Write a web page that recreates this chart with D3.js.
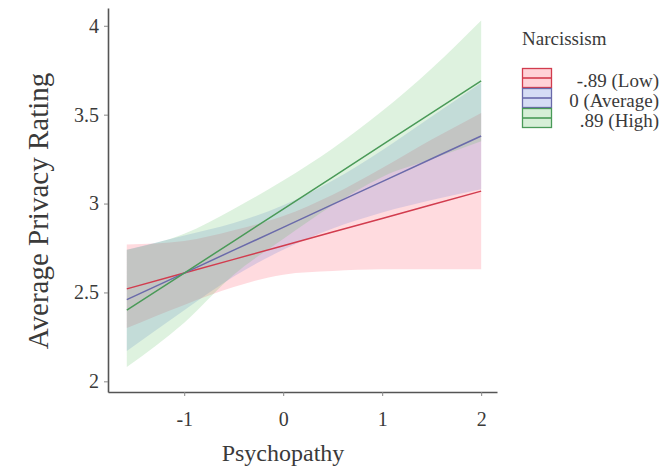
<!DOCTYPE html>
<html>
<head>
<meta charset="utf-8">
<script src="https://cdn.jsdelivr.net/npm/d3@7"></script>
<style>
  body { margin: 0; background: #fff; }
  svg text { font-family: "Liberation Serif", "DejaVu Serif", serif; fill: #3a3a3a; }
</style>
</head>
<body>
<div id="chart"></div>
<script>
/**
 * DATA
 * */
const psychopathy = [-1.58, -1, -0.5, 0, 0.5, 1, 1.5, 2];

const lowFit   = [2.520, 2.609, 2.686, 2.763, 2.840, 2.916, 2.993, 3.070];
const lowLower = [2.30, 2.43, 2.53, 2.60, 2.62, 2.63, 2.63, 2.63];
const lowUpper = [2.77, 2.79, 2.85, 2.93, 3.05, 3.20, 3.36, 3.51];

const avgFit   = [2.460, 2.609, 2.738, 2.866, 2.995, 3.123, 3.252, 3.380];
const avgLower = [2.17, 2.40, 2.59, 2.74, 2.86, 2.95, 3.02, 3.08];
const avgUpper = [2.74, 2.82, 2.89, 2.99, 3.13, 3.30, 3.49, 3.68];

const highFit   = [2.400, 2.609, 2.789, 2.969, 3.149, 3.330, 3.510, 3.690];
const highLower = [2.08, 2.33, 2.60, 2.80, 2.99, 3.15, 3.25, 3.35];
const highUpper = [2.74, 2.83, 2.97, 3.13, 3.31, 3.52, 3.76, 4.03];

const groupLabels = ["-.89 (Low)", "0 (Average)", ".89 (High)"];
const yTicks = [2, 2.5, 3, 3.5, 4];
const xTicks = [-1, 0, 1, 2];

/**
 * CONSTANTS
 * */
const width = 662, height = 469;
const lineColors = ["#d23c4e", "#6a6aaa", "#4a9a58"];
const fillColors = ["#ff4d5e", "#5a78d8", "#5cc060"];

const groups = [
  { label: groupLabels[0], fit: lowFit, lower: lowLower, upper: lowUpper },
  { label: groupLabels[1], fit: avgFit, lower: avgLower, upper: avgUpper },
  { label: groupLabels[2], fit: highFit, lower: highLower, upper: highUpper },
].map((g, i) => ({
  ...g,
  line: lineColors[i],
  fill: fillColors[i],
  points: psychopathy.map((x, j) => ({ x, fit: g.fit[j], lo: g.lower[j], hi: g.upper[j] }))
}));

const svg = d3.select("#chart")
  .append("svg")
  .attr("width", width)
  .attr("height", height);

const xScale = d3.scaleLinear().domain([-1.77, 2.16]).range([108, 497]);
const yScale = d3.scaleLinear().domain([1.94, 4.10]).range([392, 8]);

// confidence bands
const area = d3.area()
  .x(d => xScale(d.x))
  .y0(d => yScale(d.lo))
  .y1(d => yScale(d.hi))
  .curve(d3.curveMonotoneX);

svg.selectAll("path.band")
  .data(groups)
  .join("path")
  .attr("class", "band")
  .attr("d", d => area(d.points))
  .attr("fill", d => d.fill)
  .attr("fill-opacity", 0.2)
  .attr("stroke", "none");

// fitted lines
const lineFunc = d3.line()
  .x(d => xScale(d.x))
  .y(d => yScale(d.fit));

svg.selectAll("path.trend")
  .data(groups)
  .join("path")
  .attr("class", "trend")
  .attr("d", d => lineFunc(d.points))
  .attr("fill", "none")
  .attr("stroke", d => d.line)
  .attr("stroke-width", 1.5);

// axes
const yAxis = d3.axisLeft(yScale)
  .tickValues(yTicks)
  .tickFormat(d => String(d))
  .tickSize(4)
  .tickSizeOuter(0)
  .tickPadding(5);

const xAxis = d3.axisBottom(xScale)
  .tickValues(xTicks)
  .tickFormat(d => String(d))
  .tickSize(4)
  .tickSizeOuter(0)
  .tickPadding(16);

const gy = svg.append("g")
  .attr("class", "y-axis")
  .attr("transform", `translate(108,0)`)
  .call(yAxis);

const gx = svg.append("g")
  .attr("class", "x-axis")
  .attr("transform", `translate(0,392)`)
  .call(xAxis);

[gx, gy].forEach(g => {
  g.select(".domain").attr("stroke", "#555").attr("stroke-width", 1.6);
  g.selectAll(".tick line").attr("stroke", "#888").attr("stroke-width", 1);
  g.selectAll(".tick text")
    .style("font-family", "Liberation Serif, serif")
    .style("font-size", "20px")
    .attr("fill", "#505050");
});

// axis titles
svg.append("text")
  .attr("x", 283)
  .attr("y", 461)
  .attr("text-anchor", "middle")
  .style("font-size", "24px")
  .text("Psychopathy");

svg.append("text")
  .attr("transform", "translate(48,211) rotate(-90)")
  .attr("text-anchor", "middle")
  .style("font-size", "29px")
  .text("Average Privacy Rating");

// legend
const legend = svg.append("g").attr("class", "legend");

legend.append("text")
  .attr("x", 522)
  .attr("y", 45)
  .style("font-size", "19px")
  .text("Narcissism");

const keys = legend.selectAll("g.key")
  .data(groups)
  .join("g")
  .attr("class", "key")
  .attr("transform", (d, i) => `translate(0, ${78 + i * 20})`);

keys.append("rect")
  .attr("x", 522.5)
  .attr("y", -9.5)
  .attr("width", 29)
  .attr("height", 19)
  .attr("fill", "#fff");

keys.append("rect")
  .attr("x", 522.5)
  .attr("y", -9.5)
  .attr("width", 29)
  .attr("height", 19)
  .attr("fill", d => d.fill)
  .attr("fill-opacity", 0.25)
  .attr("stroke", d => d.line)
  .attr("stroke-width", 1.3);

keys.append("line")
  .attr("x1", 523)
  .attr("x2", 551)
  .attr("y1", 0)
  .attr("y2", 0)
  .attr("stroke", d => d.line)
  .attr("stroke-width", 1.6);

keys.append("text")
  .attr("x", 659)
  .attr("y", 2)
  .attr("dy", "0.35em")
  .attr("text-anchor", "end")
  .style("font-size", "19px")
  .text(d => d.label);
</script>
</body>
</html>
